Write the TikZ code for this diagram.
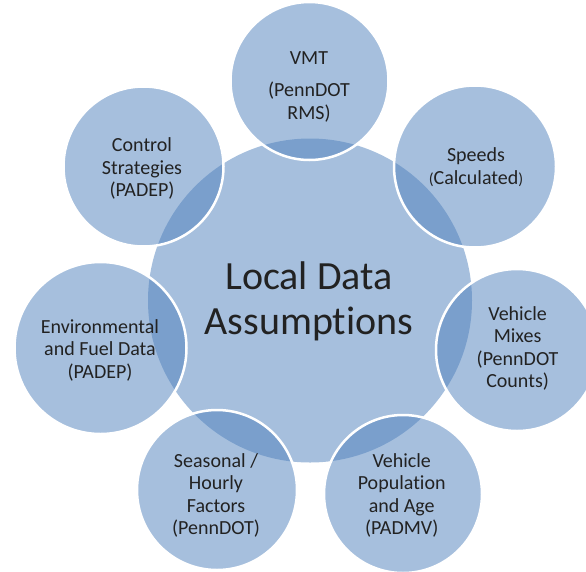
\documentclass[tikz,border=0pt]{standalone}
\usepackage{fontspec}
\setmainfont{Carlito}[Ligatures={NoCommon,NoRare,NoContextual}]
\definecolor{accent}{HTML}{4F81BD}
\definecolor{txt}{HTML}{222222}
\tikzset{
  hub/.style={circle, inner sep=0pt, fill=accent, fill opacity=0.5, draw=none},
  spoke/.style={circle, inner sep=0pt, fill=accent, fill opacity=0.5, draw=white, draw opacity=1, line width=2.5pt},
  lbl/.style={align=center, text=txt, inner sep=0pt, font=\fontsize{20}{22.5}\selectfont},
  hublbl/.style={align=center, text=txt, inner sep=0pt, font=\fontsize{40}{45}\selectfont}
}
\begin{document}
\begin{tikzpicture}[x=1pt, y=-1pt]
\clip (0,0) rectangle (586,571);
\fill[white] (0,0) rectangle (586,571);
% central circle
\node[hub, minimum size=324pt] (c) at (310,300.5) {};
% outer circles
\node[spoke, minimum size=158pt] (vmt) at (309.5,81) {};
\node[spoke, minimum size=162pt] (spd) at (475,166.5) {};
\node[spoke, minimum size=162pt] (mix) at (517,350) {};
\node[spoke, minimum size=158pt] (pop) at (403,494) {};
\node[spoke, minimum size=160pt] (sea) at (217,490) {};
\node[spoke, minimum size=172pt] (env) at (100.5,348) {};
\node[spoke, minimum size=160pt] (ctl) at (143.5,166.5) {};
% labels
\node[hublbl] (ct) at (309,301.5) {Local Data\\Assumptions};
\node[lbl] (vmtt) at (309,87) {VMT\\[9.5pt](PennDOT\\RMS)};
\node[lbl] (spdt) at (476,167) {Speeds\\{\fontsize{16}{16}\selectfont(}Calculated{\fontsize{16}{16}\selectfont)}};
\node[lbl] (mixt) at (517.6,348.5) {Vehicle\\Mixes\\(PennDOT\\Counts)};
\node[lbl] (popt) at (401.7,495.5) {Vehicle\\Population\\and Age\\(PADMV)};
\node[lbl] (seat) at (216,495.5) {Seasonal /\\Hourly\\Factors\\(PennDOT)};
\node[lbl] (envt) at (100,350) {Environmental\\and Fuel Data\\(PADEP)};
\node[lbl] (ctlt) at (142,168.5) {Control\\Strategies\\(PADEP)};
\end{tikzpicture}
\end{document}
